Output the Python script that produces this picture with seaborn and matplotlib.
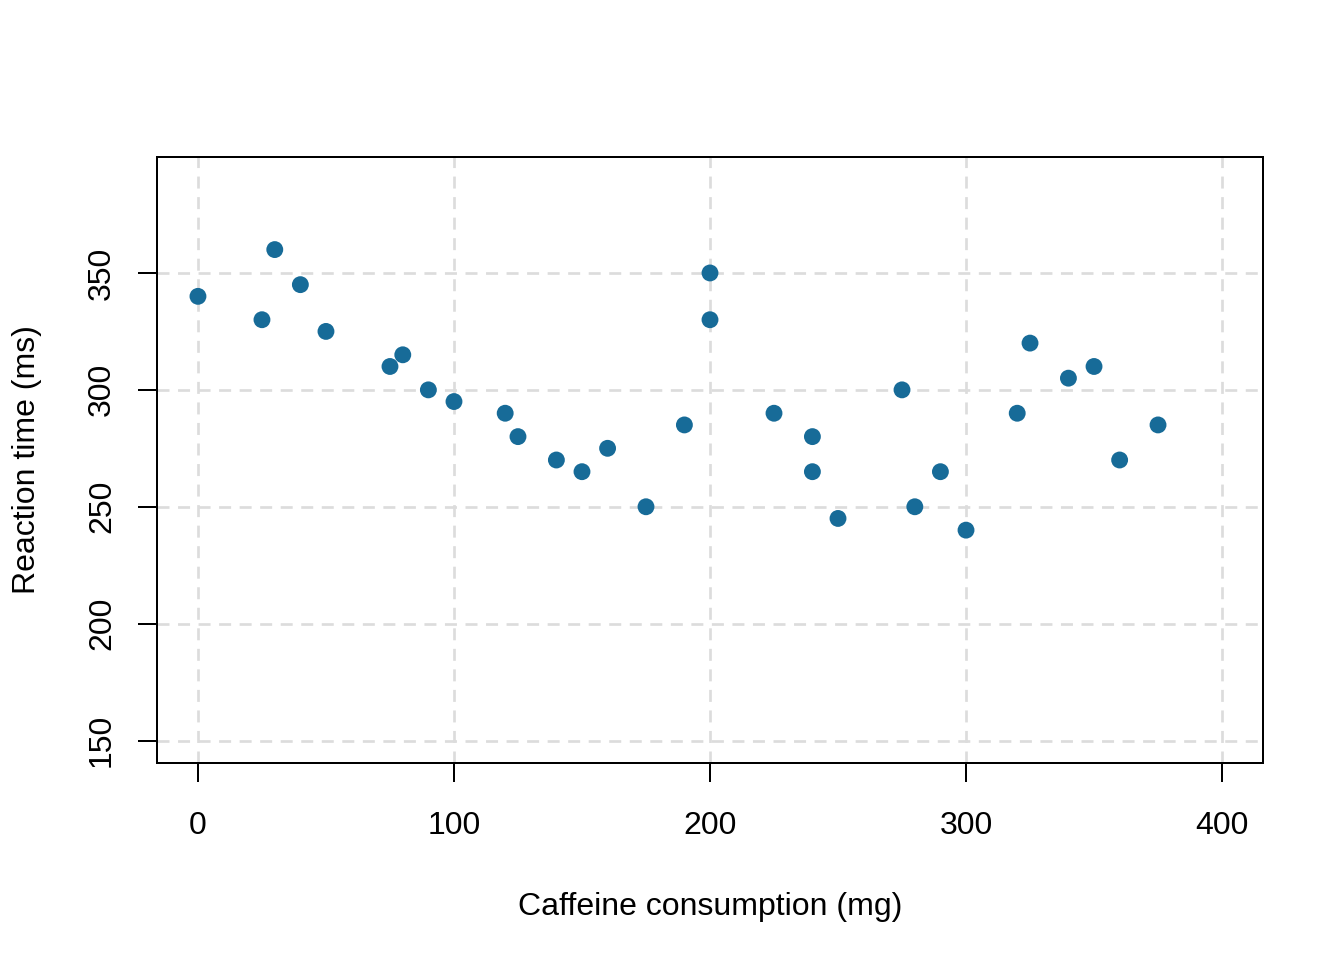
import numpy as np
import pandas as pd
import matplotlib
matplotlib.use("Agg")
import matplotlib.pyplot as plt
import seaborn as sns

caffeine_mg = [0, 25, 30, 40, 50, 75, 80, 90, 100, 120, 125, 140, 150, 160,
               175, 190, 200, 200, 225, 240, 240, 250, 275, 280, 290, 300,
               320, 325, 340, 350, 360, 375]
reaction_ms = [340, 330, 360, 345, 325, 310, 315, 300, 295, 290, 280, 270, 265, 275,
               250, 285, 350, 330, 290, 280, 265, 245, 300, 250, 265, 240,
               290, 320, 305, 310, 270, 285]
x_ticks = [0, 100, 200, 300, 400]
y_ticks = [150, 200, 250, 300, 350]

df = pd.DataFrame({"caffeine": caffeine_mg, "rt": reaction_ms})

sns.set_style("white")
plt.rcParams["font.family"] = ["Liberation Sans", "DejaVu Sans"]
plt.rcParams["text.color"] = "black"
plt.rcParams["axes.labelcolor"] = "black"

fig = plt.figure(figsize=(7, 5), dpi=192)
ax = fig.add_axes([157 / 1344, 1 - 763 / 960, (1263 - 157) / 1344, (763 - 157) / 960])

# dashed grid at tick positions
for xv in x_ticks:
    ax.axvline(xv, color="#dcdcdc", lw=1.0, ls=(0, (4.5, 3.2)), zorder=0)
for yv in y_ticks:
    ax.axhline(yv, color="#dcdcdc", lw=1.0, ls=(0, (4.5, 3.2)), zorder=0)

sns.scatterplot(data=df, x="caffeine", y="rt", color="#176b98", s=40,
                edgecolor="none", ax=ax, zorder=3)

ax.set_xlim(-16, 416)
ax.set_ylim(140.4, 399.6)
ax.set_xticks(x_ticks)
ax.set_yticks(y_ticks)
ax.set_yticklabels([str(v) for v in y_ticks], rotation=90, va="center")
ax.tick_params(axis="both", direction="out", length=7, width=0.75,
               labelsize=12, color="black", labelcolor="black",
               bottom=True, left=True)
ax.tick_params(axis="x", pad=11)
ax.tick_params(axis="y", pad=8)

for sp in ax.spines.values():
    sp.set_visible(True)
    sp.set_color("black")
    sp.set_linewidth(0.75)

ax.set_xlabel("Caffeine consumption (mg)", fontsize=12, labelpad=19)
ax.set_ylabel("Reaction time (ms)", fontsize=12, labelpad=17)

fig.savefig("out.png", dpi=192)
